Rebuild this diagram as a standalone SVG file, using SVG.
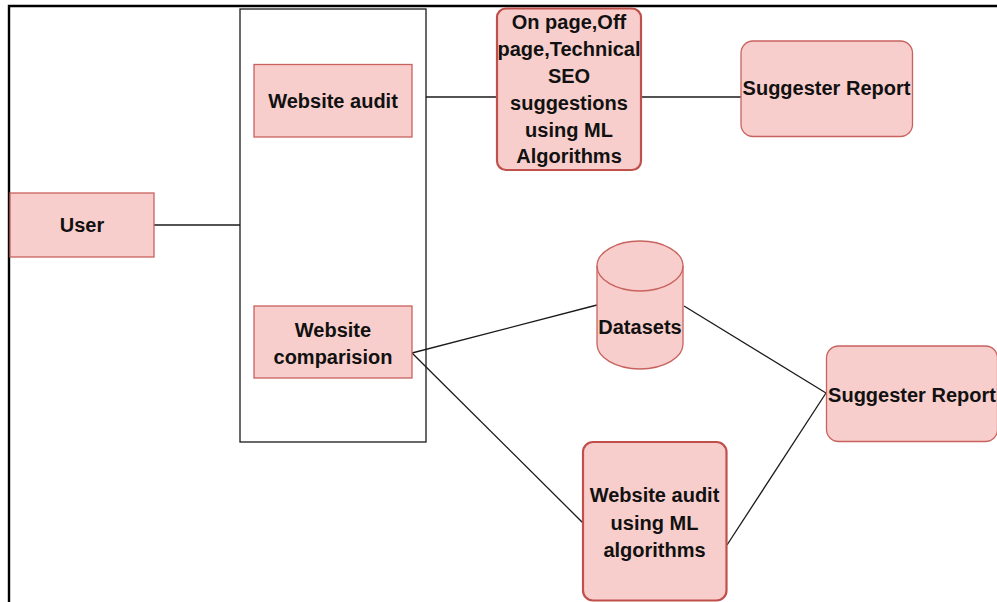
<svg xmlns="http://www.w3.org/2000/svg" width="997" height="602" viewBox="0 0 997 602">
<style>
.n{fill:#f8cecc;stroke:#c8625e;stroke-width:1.3}
.nb{fill:#f8cecc;stroke:#c0504c;stroke-width:2.2}
.c{fill:none;stroke:#1a1a1a;stroke-width:1.3}
.t{font-family:"Liberation Sans",Arial,sans-serif;font-weight:bold;font-size:20px;fill:#111;text-anchor:middle}
</style>
<rect width="997" height="602" fill="#fff"/>
<g id="frame">
<path d="M9,602 V6 H997" fill="none" stroke="#000" stroke-width="2.4"/>
</g>
<g id="container">
<rect x="240" y="9" width="186" height="433" fill="#fff" stroke="#1a1a1a" stroke-width="1.3"/>
</g>
<g id="connectors">
<line class="c" x1="154" y1="225" x2="240" y2="225"/>
<line class="c" x1="426" y1="97" x2="497" y2="97"/>
<line class="c" x1="641" y1="97" x2="741" y2="97"/>
<line class="c" x1="412" y1="353" x2="597" y2="305"/>
<line class="c" x1="412" y1="353" x2="583" y2="523"/>
<line class="c" x1="684" y1="306" x2="826" y2="393"/>
<line class="c" x1="727" y1="545" x2="826" y2="393"/>
</g>
<g id="user">
<rect class="n" x="10" y="193" width="144" height="64"/>
<text class="t" x="82" y="232">User</text>
</g>
<g id="website-audit">
<rect class="n" x="254" y="64.5" width="158" height="72.5"/>
<text class="t" x="333" y="108">Website audit</text>
</g>
<g id="website-comparision">
<rect class="n" x="254" y="306" width="158" height="72"/>
<text class="t" x="333" y="337">Website</text>
<text class="t" x="333" y="364">comparision</text>
</g>
<g id="seo-suggestions">
<rect class="nb" x="497" y="8.5" width="144" height="161.5" rx="9"/>
<text class="t" x="569" y="28.5">On page,Off</text>
<text class="t" x="569" y="55.5">page,Technical</text>
<text class="t" x="569" y="83">SEO</text>
<text class="t" x="569" y="110">suggestions</text>
<text class="t" x="569" y="137">using ML</text>
<text class="t" x="569" y="163">Algorithms</text>
</g>
<g id="suggester-report-1">
<rect class="n" x="741" y="41" width="171.5" height="95.5" rx="12"/>
<text class="t" x="826.5" y="95">Suggester Report</text>
</g>
<g id="datasets">
<path class="n" d="M597,266 A43,25 0 0 1 683,266 V344 A43,25 0 0 1 597,344 Z"/>
<path d="M597,266 A43,25 0 0 0 683,266" fill="none" stroke="#c8625e" stroke-width="1.3"/>
<text class="t" x="640" y="334">Datasets</text>
</g>
<g id="suggester-report-2">
<rect class="n" x="826.5" y="346" width="171" height="95.5" rx="12"/>
<text class="t" x="912" y="402">Suggester Report</text>
</g>
<g id="website-audit-ml">
<rect class="nb" x="583" y="442" width="143.5" height="158.5" rx="10"/>
<text class="t" x="654.5" y="502">Website audit</text>
<text class="t" x="654.5" y="530">using ML</text>
<text class="t" x="654.5" y="557">algorithms</text>
</g>
</svg>
